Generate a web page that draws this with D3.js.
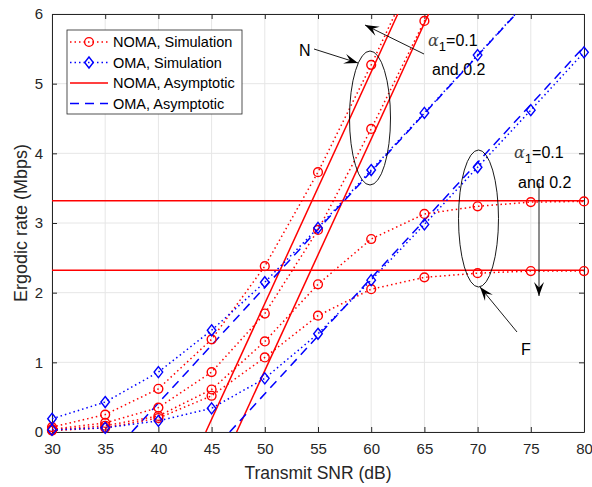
<!DOCTYPE html>
<html><head><meta charset="utf-8">
<script src="https://cdn.jsdelivr.net/npm/d3@7"></script>
<style>body{margin:0;background:#fff;} text{font-family:"Liberation Sans",Arial,sans-serif;}</style>
</head><body>
<svg id="c" width="592" height="487"></svg>
<script>
const snr = [30,35,40,45,50,55,60,65,70,75,80];
const xTicks = [30,35,40,45,50,55,60,65,70,75,80];
const yTicks = [0,1,2,3,4,5,6];
// NOMA simulation (near users go off the top of the chart)
const nomaNearA = [0.07,0.25,0.62,1.33,2.38,3.73,5.27,6.90,8.55,10.2,11.9];
const nomaNearB = [0.04,0.13,0.35,0.86,1.70,2.90,4.35,5.90,7.55,9.2,10.9];
const nomaFarA  = [0.03,0.09,0.23,0.61,1.30,2.12,2.77,3.13,3.24,3.30,3.31];
const nomaFarB  = [0.02,0.06,0.20,0.52,1.07,1.67,2.05,2.22,2.28,2.31,2.31];
// OMA simulation
const omaNear = [0.19,0.43,0.86,1.46,2.15,2.93,3.76,4.58,5.41,6.24,7.07];
const omaFar  = [0.03,0.06,0.16,0.34,0.77,1.41,2.18,2.98,3.80,4.62,5.45];
// Asymptotic lines: [snr, rate] end points
const nomaAsymNearA = [[44.45,0],[62.5,6]];
const nomaAsymNearB = [[47.35,0],[65.4,6]];
const nomaAsymFarA  = [[30,3.32],[80,3.32]];
const nomaAsymFarB  = [[30,2.32],[80,2.32]];
const omaAsymNear = [[37.5,0],[73.6,6]];
const omaAsymFar  = [[46.7,0],[80,5.53]];
const legendLabels = ["NOMA, Simulation","OMA, Simulation","NOMA, Asymptotic","OMA, Asymptotic"];

const svg = d3.select("#c");
const L=52,R=584,T=14,B=432;
const x = d3.scaleLinear().domain([30,80]).range([L,R]);
const y = d3.scaleLinear().domain([0,6]).range([B,T]);
const axisCol="#262626";
const FF="Liberation Sans, Arial, sans-serif";

const defs = svg.append("defs");
defs.append("clipPath").attr("id","clip")
  .append("rect").attr("x",L).attr("y",T).attr("width",R-L).attr("height",B-T);
defs.append("clipPath").attr("id","clip2").append("rect").attr("x",L-8).attr("y",T).attr("width",R-L+16).attr("height",B-T+10);

// grid
const g = svg.append("g");
g.selectAll(".gx").data(xTicks).join("line").attr("x1",d=>x(d)).attr("x2",d=>x(d)).attr("y1",T).attr("y2",B)
  .attr("stroke","#e6e6e6").attr("stroke-width",1);
g.selectAll(".gy").data(yTicks).join("line").attr("y1",d=>y(d)).attr("y2",d=>y(d)).attr("x1",L).attr("x2",R)
  .attr("stroke","#e6e6e6").attr("stroke-width",1);

// axes
const xa = svg.append("g").attr("transform",`translate(0,${B})`).call(d3.axisBottom(x).tickValues(xTicks).tickFormat(d3.format("d")).tickSizeInner(-5).tickSizeOuter(0).tickPadding(11));
const ya = svg.append("g").attr("transform",`translate(${L},0)`).call(d3.axisLeft(y).tickValues(yTicks).tickFormat(d3.format("d")).tickSizeInner(-5).tickSizeOuter(0).tickPadding(9));
const xt = svg.append("g").attr("transform",`translate(0,${T})`).call(d3.axisTop(x).tickValues(xTicks).tickSizeInner(-5).tickSizeOuter(0).tickFormat(""));
const yr = svg.append("g").attr("transform",`translate(${R},0)`).call(d3.axisRight(y).tickValues(yTicks).tickSizeInner(-5).tickSizeOuter(0).tickFormat(""));
[xa,ya,xt,yr].forEach(a=>{a.attr("font-size",15).attr("font-family",FF);
  a.selectAll("path").attr("stroke",axisCol);a.selectAll("line").attr("stroke",axisCol);
  a.selectAll("text").attr("fill",axisCol);});

const plot = svg.append("g").attr("clip-path","url(#clip)");
const line = d3.line().x(d=>x(d[0])).y(d=>y(d[1]));

// asymptotes
[[nomaAsymNearA,"red",null],[nomaAsymNearB,"red",null],[nomaAsymFarA,"red",null],[nomaAsymFarB,"red",null],
 [omaAsymNear,"blue","9,6"],[omaAsymFar,"blue","9,6"]].forEach(([pts,c,da])=>{
  plot.append("path").attr("d",line(pts)).attr("fill","none").attr("stroke",c).attr("stroke-width",1.5)
    .attr("stroke-dasharray",da);
});

// simulation curves
const sims = [[nomaNearA,"red","c"],[nomaNearB,"red","c"],[nomaFarA,"red","c"],[nomaFarB,"red","c"],
              [omaNear,"blue","d"],[omaFar,"blue","d"]];
const marksG = svg.append("g").attr("clip-path","url(#clip2)");
sims.forEach(([vals,c,m])=>{
  const pts = snr.map((s,i)=>[s,vals[i]]);
  plot.append("path").attr("d",line(pts)).attr("fill","none").attr("stroke",c).attr("stroke-width",1.5)
    .attr("stroke-dasharray","1.5,3");
  const vis = pts.filter(p=>p[1]<=6.05);
  if(m==="c"){
    marksG.selectAll(null).data(vis).join("circle").attr("cx",d=>x(d[0])).attr("cy",d=>y(d[1])).attr("r",4.4)
      .attr("fill","none").attr("stroke",c).attr("stroke-width",1.4);
  } else {
    marksG.selectAll(null).data(vis).join("path").attr("transform",d=>`translate(${x(d[0])},${y(d[1])})`)
      .attr("d","M0,-5.5L4.3,0L0,5.5L-4.3,0Z").attr("fill","none").attr("stroke",c).attr("stroke-width",1.4);
  }
});

// annotations
const ann = svg.append("g").attr("stroke","#000").attr("fill","none").attr("stroke-width",0.9);
ann.append("ellipse").attr("cx",370).attr("cy",118).attr("rx",20.5).attr("ry",67);
ann.append("ellipse").attr("cx",478.5).attr("cy",218.5).attr("rx",20).attr("ry",68.5);
function arrow(x1,y1,x2,y2){
  ann.append("line").attr("x1",x1).attr("y1",y1).attr("x2",x2).attr("y2",y2);
  const a=Math.atan2(y2-y1,x2-x1), len=14, w=5;
  const bx=x2-len*Math.cos(a), by=y2-len*Math.sin(a);
  const nx=-Math.sin(a), ny=Math.cos(a);
  const mx=x2-len*0.6*Math.cos(a), my=y2-len*0.6*Math.sin(a);
  svg.append("path").attr("d",`M${x2},${y2}L${bx+nx*w},${by+ny*w}L${mx},${my}L${bx-nx*w},${by-ny*w}Z`).attr("fill","#000");
}
arrow(314,49,358,63);
arrow(424,54,365,25);
arrow(517,332,480,287);
arrow(539,183,539,296);

const tx = svg.append("g").attr("font-size",16).attr("font-family",FF).attr("fill","#000");
tx.append("text").attr("x",299).attr("y",56).text("N");
tx.append("text").attr("x",521).attr("y",355).text("F");
function alphaText(xp,yp){
  const t=tx.append("text").attr("x",xp).attr("y",yp);
  t.append("tspan").attr("font-family","DejaVu Serif, serif").attr("font-style","italic").attr("fill","#444").text("α");
  t.append("tspan").attr("dy",5).attr("font-size",13).text("1");
  t.append("tspan").attr("dy",-5).text("=0.1");
}
alphaText(428,46);
tx.append("text").attr("x",432).attr("y",75).text("and 0.2");
alphaText(514,158);
tx.append("text").attr("x",518).attr("y",188).text("and 0.2");

// axis labels
svg.append("text").attr("x",(L+R)/2).attr("y",479).attr("text-anchor","middle").attr("font-size",17.5).attr("font-family",FF).attr("fill",axisCol).text("Transmit SNR (dB)");
svg.append("text").attr("transform",`translate(27,${(T+B)/2}) rotate(-90)`).attr("text-anchor","middle").attr("font-size",18).attr("font-family",FF).attr("fill",axisCol).text("Ergodic rate (Mbps)");

// legend
const lg = svg.append("g");
lg.append("rect").attr("x",67).attr("y",30).attr("width",175).attr("height",84).attr("fill","#fff").attr("stroke",axisCol).attr("stroke-width",0.8);
const styles=[["red","1.5,3","c"],["blue","1.5,3","d"],["red",null,null],["blue","9,6",null]];
legendLabels.forEach((lab,i)=>{
  const yy=42+i*20.5;
  const [c,da,m]=styles[i];
  lg.append("line").attr("x1",70).attr("x2",108).attr("y1",yy).attr("y2",yy).attr("stroke",c).attr("stroke-width",1.5).attr("stroke-dasharray",da);
  if(m==="c") lg.append("circle").attr("cx",89).attr("cy",yy).attr("r",4.4).attr("fill","none").attr("stroke",c).attr("stroke-width",1.4);
  if(m==="d") lg.append("path").attr("transform",`translate(89,${yy})`).attr("d","M0,-5.5L4.3,0L0,5.5L-4.3,0Z").attr("fill","none").attr("stroke",c).attr("stroke-width",1.4);
  lg.append("text").attr("x",113).attr("y",yy+5).attr("font-size",14.5).attr("font-family",FF).attr("fill","#000").text(lab);
});
</script>
</body></html>
